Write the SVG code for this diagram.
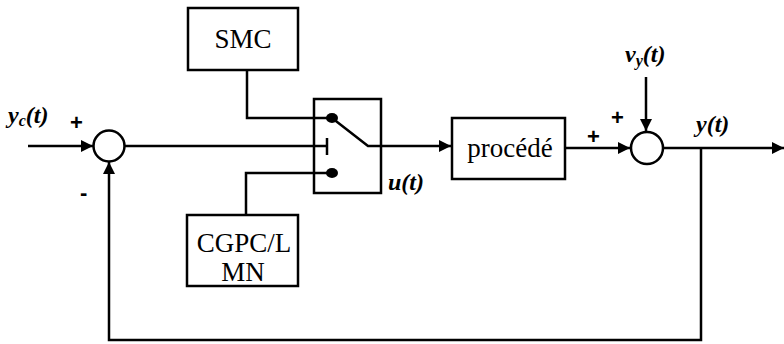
<svg xmlns="http://www.w3.org/2000/svg" width="784" height="344" viewBox="0 0 784 344">
<defs>
<marker id="ah" viewBox="0 0 10 10" refX="10" refY="5" markerWidth="20" markerHeight="12" markerUnits="userSpaceOnUse" orient="auto">
<path d="M0,0 L10,5 L0,10 z" fill="#000"/>
</marker>
</defs>
<style>
.blk{fill:#fff;stroke:#000;stroke-width:2.5}
.ln{fill:none;stroke:#000;stroke-width:2.5}
.bt{font-family:'Liberation Serif','Times New Roman','DejaVu Serif',serif;font-size:27px;fill:#000;text-anchor:middle}
.lb{font-family:'Liberation Serif','Times New Roman','DejaVu Serif',serif;font-size:24px;font-style:italic;font-weight:bold;fill:#000}
.sg{font-family:'Liberation Sans',Arial,sans-serif;font-size:22px;font-weight:bold;fill:#000}
</style>
<rect width="784" height="344" fill="#fff"/>
<g id="connectors">
<line class="ln" x1="28" y1="146" x2="93" y2="146" marker-end="url(#ah)"/>
<line class="ln" x1="125" y1="146" x2="327" y2="146"/>
<line class="ln" x1="327" y1="138" x2="327" y2="155"/>
<polyline class="ln" points="247,70 247,118 332,118"/>
<polyline class="ln" points="246,215 246,173 332,173"/>
<polyline class="ln" points="332,118 368,146 381,146"/>
<line class="ln" x1="381" y1="146" x2="451" y2="146" marker-end="url(#ah)"/>
<line class="ln" x1="565" y1="148" x2="630" y2="148" marker-end="url(#ah)"/>
<line class="ln" x1="646" y1="77" x2="646" y2="131" marker-end="url(#ah)"/>
<line class="ln" x1="663" y1="148" x2="784" y2="148" marker-end="url(#ah)"/>
<polyline class="ln" points="701,148 701,340 109,340 109,162" marker-end="url(#ah)"/>
</g>
<g id="sum1"><circle class="blk" cx="109" cy="146" r="15.5"/></g>
<g id="sum2"><circle class="blk" cx="647" cy="148" r="16"/></g>
<g id="smc"><rect class="blk" x="188" y="8" width="110" height="62"/><text class="bt" x="243" y="48">SMC</text></g>
<g id="switch">
<rect class="ln" x="314" y="99" width="67" height="94"/>
<ellipse cx="332" cy="118" rx="6" ry="5" fill="#000"/>
<ellipse cx="332" cy="173" rx="6" ry="5" fill="#000"/>
</g>
<g id="cgpc"><rect class="blk" x="187" y="215" width="111" height="71"/><text class="bt" x="244" y="252">CGPC/L</text><text class="bt" x="243" y="281">MN</text></g>
<g id="procede"><rect class="blk" x="452" y="118" width="113" height="61"/><text class="bt" x="510" y="157">procédé</text></g>
<g id="labels">
<text class="lb" x="8" y="123">y<tspan font-size="16" dy="3">c</tspan><tspan dy="-3">(t)</tspan></text>
<text class="sg" x="70" y="130">+</text>
<text class="sg" x="80" y="200">-</text>
<text class="lb" x="388" y="190">u(t)</text>
<text class="sg" x="587" y="144">+</text>
<text class="sg" x="611" y="125">+</text>
<text class="lb" x="625" y="62">v<tspan font-size="16" dy="4">y</tspan><tspan dy="-4">(t)</tspan></text>
<text class="lb" x="696" y="132">y(t)</text>
</g>
</svg>
